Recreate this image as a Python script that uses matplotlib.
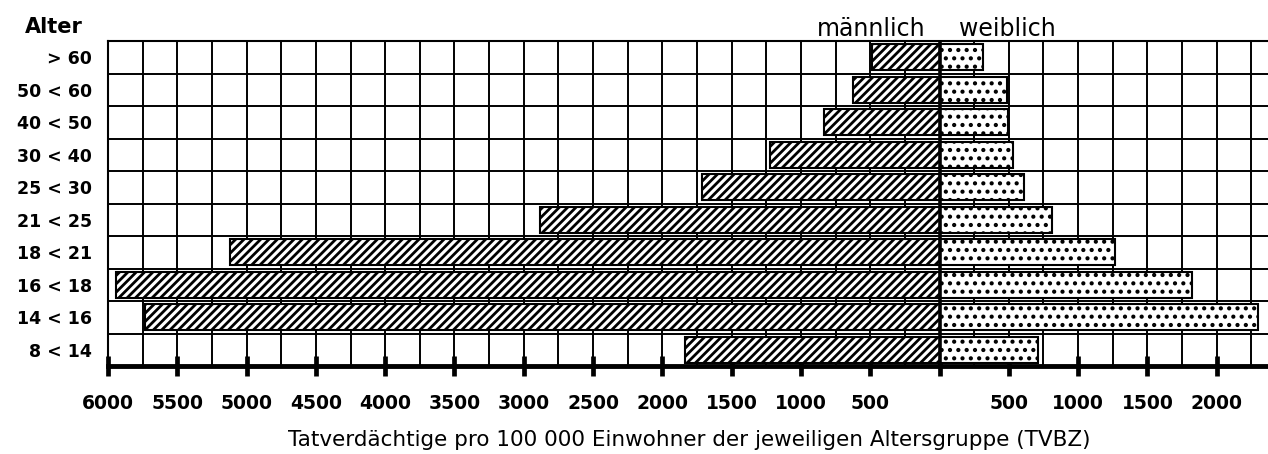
import matplotlib.pyplot as plt
import numpy as np

# Altersgruppen von unten nach oben
alter = ["8 < 14", "14 < 16", "16 < 18", "18 < 21", "21 < 25",
         "25 < 30", "30 < 40", "40 < 50", "50 < 60", "> 60"]
maennlich = [1840, 5730, 5940, 5120, 2880, 1715, 1220, 835, 625, 490]
weiblich = [710, 2300, 1820, 1265, 815, 610, 530, 495, 485, 310]

links_ticks = [-6000, -5500, -5000, -4500, -4000, -3500, -3000, -2500,
               -2000, -1500, -1000, -500, 0]
rechts_ticks = [500, 1000, 1500, 2000]


def main():
    plt.rcParams['font.family'] = ['DejaVu Sans']

    W, H = 1268, 454
    fig = plt.figure(figsize=(W / 100, H / 100), dpi=100)
    ax = fig.add_axes([108 / W, 1 - 366 / H, (W - 108) / W, (366 - 41) / H])

    y = np.arange(len(alter))
    plt.rcParams['hatch.linewidth'] = 2.0
    ax.barh(y, [-m for m in maennlich], height=0.8, color='white',
            edgecolor='black', hatch='////', linewidth=1.5, zorder=2)
    plt.rcParams['hatch.linewidth'] = 1.8
    ax.barh(y, weiblich, height=0.8, color='white',
            edgecolor='black', hatch='..', linewidth=1.5, zorder=2)
    ax.axvline(0, color='black', linewidth=2.6, zorder=3)

    ax.set_xlim(-6000, 2370)
    ax.set_ylim(-0.5, len(alter) - 0.5)

    ticks = links_ticks + rechts_ticks
    ax.set_xticks(ticks)
    ax.set_xticklabels(['' if t == 0 else str(abs(t)) for t in ticks],
                       fontweight='bold', fontsize=13.5)
    ax.set_xticks(np.arange(-5750, 2251, 500), minor=True)
    ax.set_yticks(y)
    ax.set_yticklabels(alter, fontweight='bold', fontsize=12.5)
    ax.set_yticks(np.arange(-0.5, len(alter), 1.0), minor=True)

    ax.tick_params(axis='x', which='major', direction='inout', length=15,
                   width=3.4, pad=13, color='black')
    ax.tick_params(axis='x', which='minor', length=0)
    ax.tick_params(axis='y', which='both', length=0, pad=11.5)

    ax.grid(which='both', axis='x', color='black', linewidth=1.4)
    ax.grid(which='minor', axis='y', color='black', linewidth=1.4)
    ax.set_axisbelow(True)

    ax.spines['right'].set_visible(False)
    ax.spines['top'].set_linewidth(1.5)
    ax.spines['left'].set_linewidth(1.5)
    ax.spines['bottom'].set_linewidth(3.5)

    ax.set_xlabel("Tatverdächtige pro 100 000 Einwohner der jeweiligen Altersgruppe (TVBZ)",
                  fontsize=15.5)
    ax.xaxis.set_label_coords((689 - 108) / (W - 108), -(440 - 366) / (366 - 41))
    ax.xaxis.label.set_va('center')

    fig.text(25 / W, 1 - 27 / H, "Alter", fontsize=15, fontweight='bold',
             ha='left', va='center')
    fig.text(871 / W, 1 - 36 / H, "männlich", fontsize=17, ha='center', va='baseline')
    fig.text(1007 / W, 1 - 36 / H, "weiblich", fontsize=17, ha='center', va='baseline')

    fig.savefig("out.png", dpi=100)


if __name__ == "__main__":
    main()
